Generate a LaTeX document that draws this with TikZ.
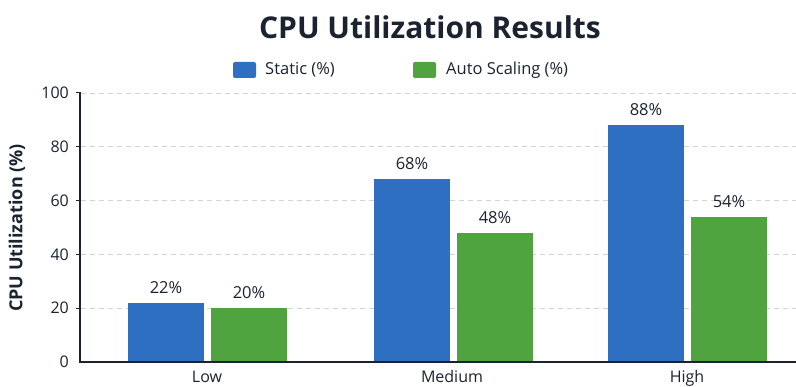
\documentclass[tikz,border=0pt]{standalone}
\usepackage{fontspec}
\setmainfont{Open Sans}
\definecolor{barblue}{HTML}{2F6FC2}
\definecolor{bargreen}{HTML}{4FA43F}
\definecolor{gridgray}{HTML}{D3D3D3}
\definecolor{ink}{HTML}{1B2230}
\tikzset{
  barbox/.style={anchor=south west, inner sep=0pt, outer sep=0pt, minimum width=76pt, draw=none},
  vallabel/.style={anchor=south, inner sep=0pt, text=ink, font=\fontsize{16.5}{18}\selectfont, yshift=9pt},
  ticklabel/.style={anchor=east, inner sep=0pt, text=ink, font=\fontsize{16}{18}\selectfont},
  catlabel/.style={anchor=base, inner sep=0pt, text=ink, font=\fontsize{16}{18}\selectfont},
  gridline/.style={gridgray, dashed, dash pattern=on 5pt off 4pt, line width=0.8pt},
  axisline/.style={ink, line width=1.4pt},
  legendbox/.style={rounded corners=2pt, inner sep=0pt, minimum width=23pt, minimum height=16pt},
  legendtext/.style={anchor=west, inner sep=0pt, text=ink, font=\fontsize{16.5}{18}\selectfont}
}
\begin{document}
\begin{tikzpicture}[x=1pt,y=-1pt]
\useasboundingbox (0,0) rectangle (796,387);
% title
\node[anchor=base, inner sep=0pt, text=ink, font=\fontsize{30}{33}\selectfont\bfseries] (title) at (430,39) {CPU Utilization Results};
% legend
\node[legendbox, fill=barblue] (lgblue) at (244.5,70) {};
\node[legendtext] (lgbluetxt) at (265,70) {Static (\%)};
\node[legendbox, fill=bargreen] (lggreen) at (424.5,70) {};
\node[legendtext] (lggreentxt) at (446,70) {Auto Scaling (\%)};
% grid
\foreach \v/\y in {20/308.2,40/254.4,60/200.6,80/146.8,100/93} {
  \draw[gridline] (81,\y) -- (796,\y);
  \draw[axisline, line width=1pt] (76,\y) -- (80,\y);
  \node[ticklabel] (tick\v) at (69,\y) {\v};
}
\node[ticklabel] (tick0) at (69,362) {0};
% bars
\node[barbox, fill=barblue, minimum height=59.2pt] (lowA) at (128,362) {};
\node[barbox, fill=bargreen, minimum height=53.8pt] (lowB) at (211,362) {};
\node[barbox, fill=barblue, minimum height=182.9pt] (medA) at (374,362) {};
\node[barbox, fill=bargreen, minimum height=129.1pt] (medB) at (457,362) {};
\node[barbox, fill=barblue, minimum height=236.7pt] (highA) at (608,362) {};
\node[barbox, fill=bargreen, minimum height=145.3pt] (highB) at (691,362) {};
% value labels
\node[vallabel] (vlowA) at (lowA.north) {22\%};
\node[vallabel] (vlowB) at (lowB.north) {20\%};
\node[vallabel] (vmedA) at (medA.north) {68\%};
\node[vallabel] (vmedB) at (medB.north) {48\%};
\node[vallabel] (vhighA) at (highA.north) {88\%};
\node[vallabel] (vhighB) at (highB.north) {54\%};
% axes
\coordinate (origin) at (80,362);
\coordinate (ytop) at (80,92);
\coordinate (xend) at (796,362);
\draw[axisline] (ytop) -- (origin) -- (xend);
% category labels
\node[catlabel] (catlow) at (207,383) {Low};
\node[catlabel] (catmed) at (452,383) {Medium};
\node[catlabel] (cathigh) at (687,383) {High};
% y label
\node[rotate=90, inner sep=0pt, text=ink, font=\fontsize{18}{20}\selectfont\bfseries] (ylab) at (17,228) {CPU Utilization (\%)};
\end{tikzpicture}
\end{document}
